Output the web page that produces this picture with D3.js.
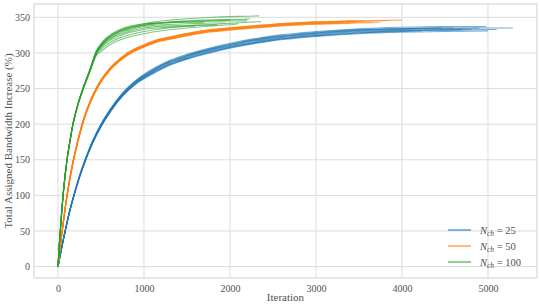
<!DOCTYPE html>
<html><head><meta charset="utf-8">
<script src="https://cdn.jsdelivr.net/npm/d3@7"></script>
<style>
html,body{margin:0;padding:0;background:#fff;}
svg{display:block;}
text{font-family:"Liberation Serif","DejaVu Serif",serif;}
</style></head>
<body>
<svg id="chart" width="540" height="307"></svg>
<script>
// ---- data ----
const seriesNames = ["25", "50", "100"];
const seriesColors = ["#1f77b4", "#ff7f0e", "#2ca02c"];
const xTicks = [0, 1000, 2000, 3000, 4000, 5000];
const yTicks = [0, 50, 100, 150, 200, 250, 300, 350];

// N_ch = 25 : iteration grid, run end iterations, run values (last value = value at run end)
const blueGrid = [0,40,80,130,190,250,320,400,500,620,750,900,1050,1250,1500,1800,2100,2500,3000,3500,4000,4500,5000];
const blueEnds = [5290,5000,4980,4810,4700,4465,4230,4900,5100,4600];
const blueRuns = [
  [0,25,48,75,102,126,150,174,199,222,242,259,271,284,295,305,313,321,327,331,333,334,335,335],
  [0,25,47,74,101,125,149,172,196,219,239,256,267,280,291,301,309,317,323,327,329,330,331],
  [0,25,49,76,103,128,152,176,200,223,244,261,274,287,298,308,316,324,330,334,336,337,337],
  [0,25,48,75,102,126,150,173,197,220,240,257,269,282,293,303,311,319,325,329,331,332,333],
  [0,25,48,75,102,126,150,174,198,221,241,258,270,283,294,304,312,320,326,330,332,333,333],
  [0,25,48,75,102,127,151,175,199,222,242,260,272,285,296,306,314,322,328,332,334,335],
  [0,25,48,74,101,125,149,173,197,220,240,256,268,281,292,302,310,318,324,328,330,331],
  [0,25,48,75,102,126,151,175,199,222,242,259,271,285,296,306,314,322,328,332,334,335,335],
  [0,25,48,75,102,126,150,173,197,220,240,257,269,281,292,302,310,318,324,328,331,332,333,333],
  [0,25,48,75,102,127,151,175,200,223,243,260,273,286,297,307,315,323,329,333,334,335,335]
];

// N_ch = 50
const orangeGrid = [0,20,45,80,120,170,230,300,380,480,600,733,870,1000,1150,1300,1500,1750,2000,2300,2700,3100,3500];
const orangeEnds = [3300,3400,3450,3500,3550,3650,3750,3850,4000,3200];
const orangeRuns = [
  [0,22,47,79,111,144,176,207,233,257,277,292,303,310,317,321,326,331,334,337,340.5,342.5,343],
  [0,22,46.5,78,110,142.5,174.5,205.5,231.5,255.5,275.5,290.5,301.5,308.5,315.5,319.5,324.5,329.5,332.5,335.5,339,341,342],
  [0,22,47.5,80,112,145.5,177.5,208.5,234.5,258.5,278.5,293.5,304.5,311.5,318.5,322.5,327.5,332.5,335.5,338.5,342,344,345],
  [0,22,47,79,110.5,143.5,175.5,206.5,232.5,256.5,276.5,291.5,302.5,309.5,316.5,320.5,325.5,330.5,333.5,336.5,340,342,343.5],
  [0,22,47,79.5,111.5,145,177,208,234,258,278,293,304,311,318,322,327,332,335,338,341.5,343.5,345,345],
  [0,22,46.5,78.5,110.5,143,175,206,232,256,276,291,302,309,316,320,325,330,333,336,339.5,341.5,343,343.5],
  [0,21.5,46,78,110,142,174,205,231,255,275,290,301,308,315,319,324,329,332,335,338.5,340.5,342,343],
  [0,22,47,79,111,144.5,176.5,207.5,233.5,257.5,277.5,292.5,303.5,310.5,317.5,321.5,326.5,331.5,334.5,337.5,341,343,344.5,345.5],
  [0,22,47.5,79.5,112,145,177,208,234,258,278,293,304,311,318,322,327,332,335,338,341.5,343.5,345,346],
  [0,22,47,79,110.5,143.5,175.5,206.5,232.5,256.5,276.5,291.5,302.5,309.5,316.5,320.5,325.5,330.5,333.5,336.5,340,342,342]
];

// N_ch = 100
const greenGrid = [0,15,35,70,105,140,174,230,291,370,446,500,560,640,740,850,1000,1150,1300,1500,1650,1800,2000,2200];
const greenEnds = [2340,2230,2360,2100,1850,1700,2000,1600,1950,2200];
const greenRuns = [
  [0,30,64,114,150,177,200,227,250,276,302,312,320,327,333,337,341,344,346,348,349,350,351,351.5,352],
  [0,30,64,114,150,177,200,227,250,275,301,310,318,325,331,335,339,341.5,343.5,345,346,346.5,347,347.5,348],
  [0,29,63,113,149,176,199,226,249,274,298,305,311,317,322,326,330,333,335.5,337.5,339,340,341.5,343,344],
  [0,29,63,113,149,176,199,226,248,273,296,302,308,314,319,323,327,330,332.5,335,336.5,338,339.5,341],
  [0,30,64,114,150,177,200,227,250,275,300,309,316,322,327,331,335,337,338,338.5,339,339,339],
  [0,31,65,115,151,178,201,228,251,276,303,313,321,328,334,338,341,342,342.5,343,343,343],
  [0,30,64,114,150,177,200,227,250,276,302,311,319,326,332,336,340,342,343.5,344.5,345,345.5,346],
  [0,30,64,114,150,177,200,227,249,274,299,307,314,320,325,329,333,335,336.5,337.5,338],
  [0,30,64,114,150,177,200,227,250,275,300,309,317,323,329,333,337,339,340,341,341.5,342,342],
  [0,30,64,114,150,177,200,227,250,275,301,310,318,325,331,335,338.5,341,342.5,343.5,344,344.5,345,345]
];

// ---- layout ----
const W = 540, H = 307;
const m = {left: 34, right: 3, top: 4, bottom: 29};
const svg = d3.select("#chart");
const x = d3.scaleLinear().domain([-279, 5570]).range([m.left, W - m.right]);
const y = d3.scaleLinear().domain([-16, 368.7]).range([H - m.bottom, m.top]);

const gridColor = "#dcdcdc";
const textColor = "#505050";
const fontFam = '"Liberation Serif","DejaVu Serif",serif';

svg.append("g").selectAll("line").data(xTicks).join("line")
  .attr("x1", d => x(d)).attr("x2", d => x(d))
  .attr("y1", m.top).attr("y2", H - m.bottom)
  .attr("stroke", gridColor).attr("stroke-width", 1);
svg.append("g").selectAll("line").data(yTicks).join("line")
  .attr("y1", d => y(d)).attr("y2", d => y(d))
  .attr("x1", m.left).attr("x2", W - m.right)
  .attr("stroke", gridColor).attr("stroke-width", 1);

svg.append("rect").attr("x", m.left).attr("y", m.top)
  .attr("width", W - m.left - m.right).attr("height", H - m.top - m.bottom)
  .attr("fill", "none").attr("stroke", "#d8d8d8").attr("stroke-width", 1.2);

const xAxis = d3.axisBottom(x).tickValues(xTicks).tickSize(0).tickPadding(7).tickFormat(d3.format("d"));
const gx = svg.append("g").attr("transform", `translate(0,${H - m.bottom})`).call(xAxis);
gx.select(".domain").remove();
gx.selectAll("text").attr("fill", textColor).style("font-size", "10px").style("font-family", fontFam);

const yAxis = d3.axisLeft(y).tickValues(yTicks).tickSize(0).tickPadding(4).tickFormat(d3.format("d"));
const gy = svg.append("g").attr("transform", `translate(${m.left},0)`).call(yAxis);
gy.select(".domain").remove();
gy.selectAll("text").attr("fill", textColor).style("font-size", "10px").style("font-family", fontFam);

svg.append("text").attr("x", (m.left + W - m.right) / 2).attr("y", 300.5)
  .attr("text-anchor", "middle").attr("fill", textColor).style("font-size", "11px")
  .text("Iteration");
svg.append("text").attr("transform", `translate(12,${(m.top + H - m.bottom) / 2}) rotate(-90)`)
  .attr("text-anchor", "middle").attr("fill", textColor).style("font-size", "11px")
  .text("Total Assigned Bandwidth Increase (%)");

const line = d3.line().x(d => x(d[0])).y(d => y(d[1])).curve(d3.curveMonotoneX);
function runPoints(grid, end, vals) {
  const pts = [];
  for (let i = 0; i < vals.length - 1; i++) pts.push([grid[i], vals[i]]);
  pts.push([end, vals[vals.length - 1]]);
  return pts;
}
const groups = [
  {grid: blueGrid, ends: blueEnds, runs: blueRuns, color: seriesColors[0]},
  {grid: orangeGrid, ends: orangeEnds, runs: orangeRuns, color: seriesColors[1]},
  {grid: greenGrid, ends: greenEnds, runs: greenRuns, color: seriesColors[2]}
];
const plot = svg.append("g");
groups.forEach(g => {
  plot.append("g").selectAll("path").data(g.runs.map((r, i) => runPoints(g.grid, g.ends[i], r)))
    .join("path").attr("d", line).attr("fill", "none")
    .attr("stroke", g.color).attr("stroke-width", 1.1).attr("stroke-opacity", 0.6);
});

const leg = svg.append("g");
const legY = [230, 246, 262];
seriesNames.forEach((n, i) => {
  leg.append("line").attr("x1", 448).attr("x2", 471).attr("y1", legY[i]).attr("y2", legY[i])
    .attr("stroke", seriesColors[i]).attr("stroke-width", 1.5).attr("stroke-opacity", 0.7);
  const t = leg.append("text").attr("x", 480).attr("y", legY[i] + 3.5)
    .attr("fill", textColor).style("font-size", "10.5px");
  t.append("tspan").style("font-style", "italic").text("N");
  t.append("tspan").attr("dy", 2.5).style("font-style", "italic").style("font-size", "7.5px").text("ch");
  t.append("tspan").attr("dy", -2.5).text(" = " + n);
});
</script>
</body></html>
